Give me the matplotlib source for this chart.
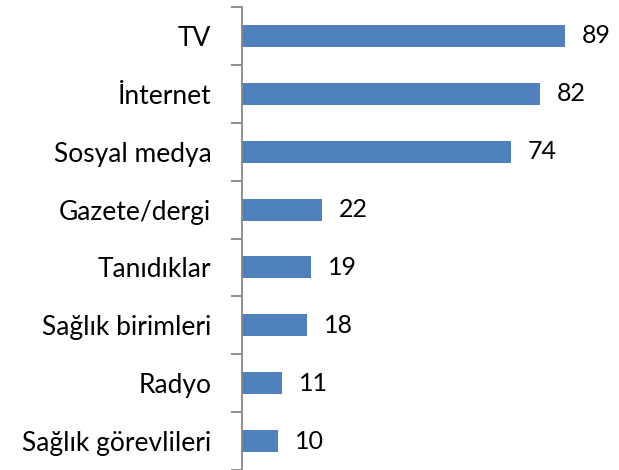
import numpy as np
import matplotlib.pyplot as plt

# kategoriler ve değerler
categories = ['TV', 'İnternet', 'Sosyal medya', 'Gazete/dergi', 'Tanıdıklar',
              'Sağlık birimleri', 'Radyo', 'Sağlık görevlileri']
values = [89, 82, 74, 22, 19, 18, 11, 10]

plt.rcParams['font.family'] = ['Lato', 'DejaVu Sans']

fig = plt.figure(figsize=(6.19, 4.70), dpi=100)
ax = fig.add_axes([0.391, 0.0, 0.5864, 0.985])

y = np.arange(len(categories))
ax.barh(y, values, height=0.38, color='#4f81bd')

for yi, v in zip(y, values):
    ax.annotate(str(v), (v, yi), xytext=(12, 0), textcoords='offset points',
                va='center', ha='left', fontsize=18, color='black')

ax.set_xlim(0, 100)
ax.set_ylim(len(categories) - 0.5, -0.5)

ax.set_yticks(y)
ax.set_yticklabels(categories, fontsize=19)
ax.set_yticks(np.arange(len(categories) + 1) - 0.5, minor=True)
ax.tick_params(axis='y', which='major', length=0, pad=22)
ax.tick_params(axis='y', which='minor', length=8, width=1.3, color='#878787')
ax.set_xticks([])

for s in ['top', 'right', 'bottom']:
    ax.spines[s].set_visible(False)
ax.spines['left'].set_color('#878787')
ax.spines['left'].set_linewidth(1.3)

fig.savefig('out.png', dpi=100)
